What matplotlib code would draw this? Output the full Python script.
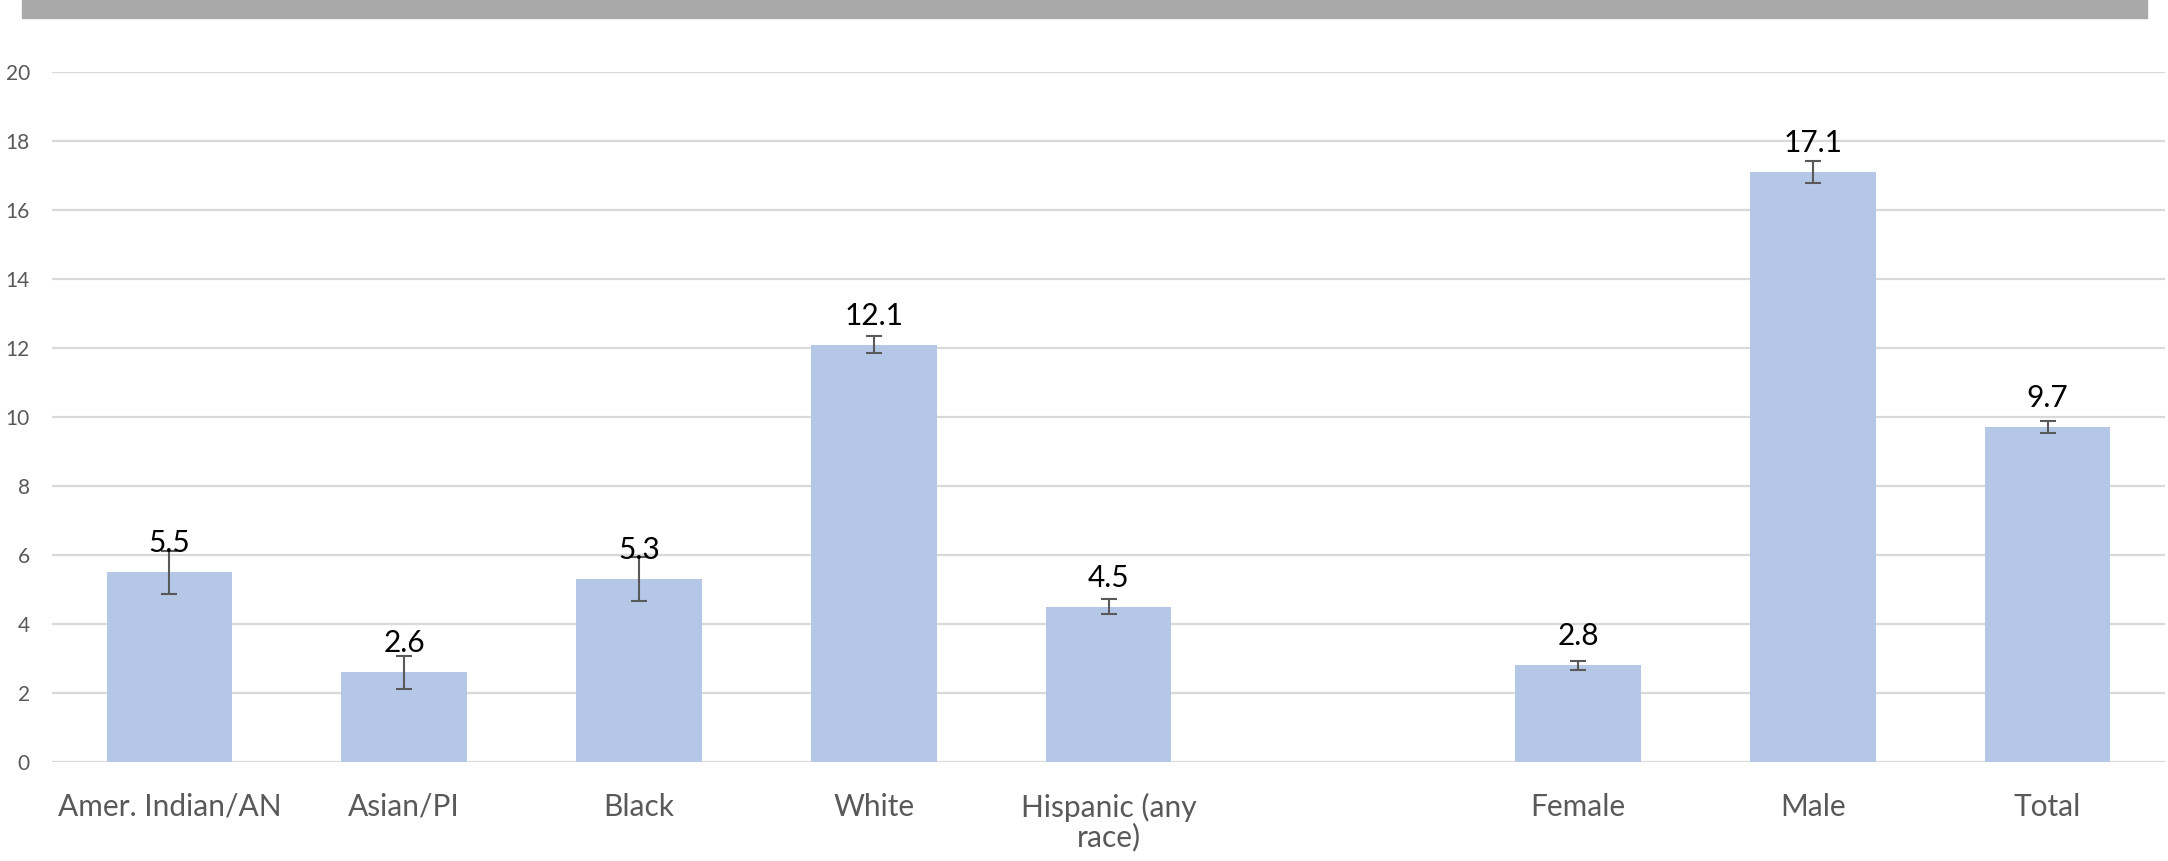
import matplotlib
matplotlib.use('Agg')
import matplotlib.pyplot as plt
from matplotlib.patches import Rectangle

# data
race_labels = ['Amer. Indian/AN', 'Asian/PI', 'Black', 'White', 'Hispanic (any\nrace)']
race_values = [5.5, 2.6, 5.3, 12.1, 4.5]
race_err = [0.63, 0.48, 0.63, 0.24, 0.22]

sex_labels = ['Female', 'Male', 'Total']
sex_values = [2.8, 17.1, 9.7]
sex_err = [0.13, 0.32, 0.17]

yticks = [0, 2, 4, 6, 8, 10, 12, 14, 16, 18, 20]

plt.rcParams['font.family'] = ['Lato', 'DejaVu Sans']

labels = race_labels + sex_labels
values = race_values + sex_values
errs = race_err + sex_err
# one empty slot between the two groups
xpos = list(range(len(race_labels))) + [len(race_labels) + 1 + i for i in range(len(sex_labels))]

fig = plt.figure(figsize=(21.68, 8.61), dpi=100)
fig.patches.append(Rectangle((22 / 2168, 1 - 18 / 861), 2125 / 2168, 18 / 861,
                             transform=fig.transFigure, color='#A9A9A9', zorder=0))
ax = fig.add_axes([52 / 2168, 99 / 861, 2113 / 2168, 690 / 861])

ax.bar(xpos, values, width=0.535, color='#B4C7E7', zorder=2)
ax.errorbar(xpos, values, yerr=errs, fmt='none', ecolor='#595959', elinewidth=1.5,
            capsize=6, capthick=1.5, zorder=3)

for x, v in zip(xpos, values):
    ax.annotate(f'{v:.1f}', (x, v), xytext=(0, 14.4), textcoords='offset points',
                ha='center', va='baseline', fontsize=21.5, color='#000000', zorder=4)

ax.set_xlim(-0.5, 8.5)
ax.set_ylim(0, 20)
ax.set_yticks(yticks)
ax.set_xticks(xpos)
ax.set_xticklabels(labels, linespacing=1.05)
ax.tick_params(axis='x', length=0, pad=22, labelsize=21.5, labelcolor='#595959')
ax.tick_params(axis='y', length=0, pad=16, labelsize=15, labelcolor='#595959')
for lab in ax.get_yticklabels():
    lab.set_horizontalalignment('right')

ax.grid(axis='y', color='#D9D9D9', linewidth=1.6, zorder=0)
ax.set_axisbelow(True)
for s in ax.spines.values():
    s.set_visible(False)

fig.savefig('out.png', dpi=100)
